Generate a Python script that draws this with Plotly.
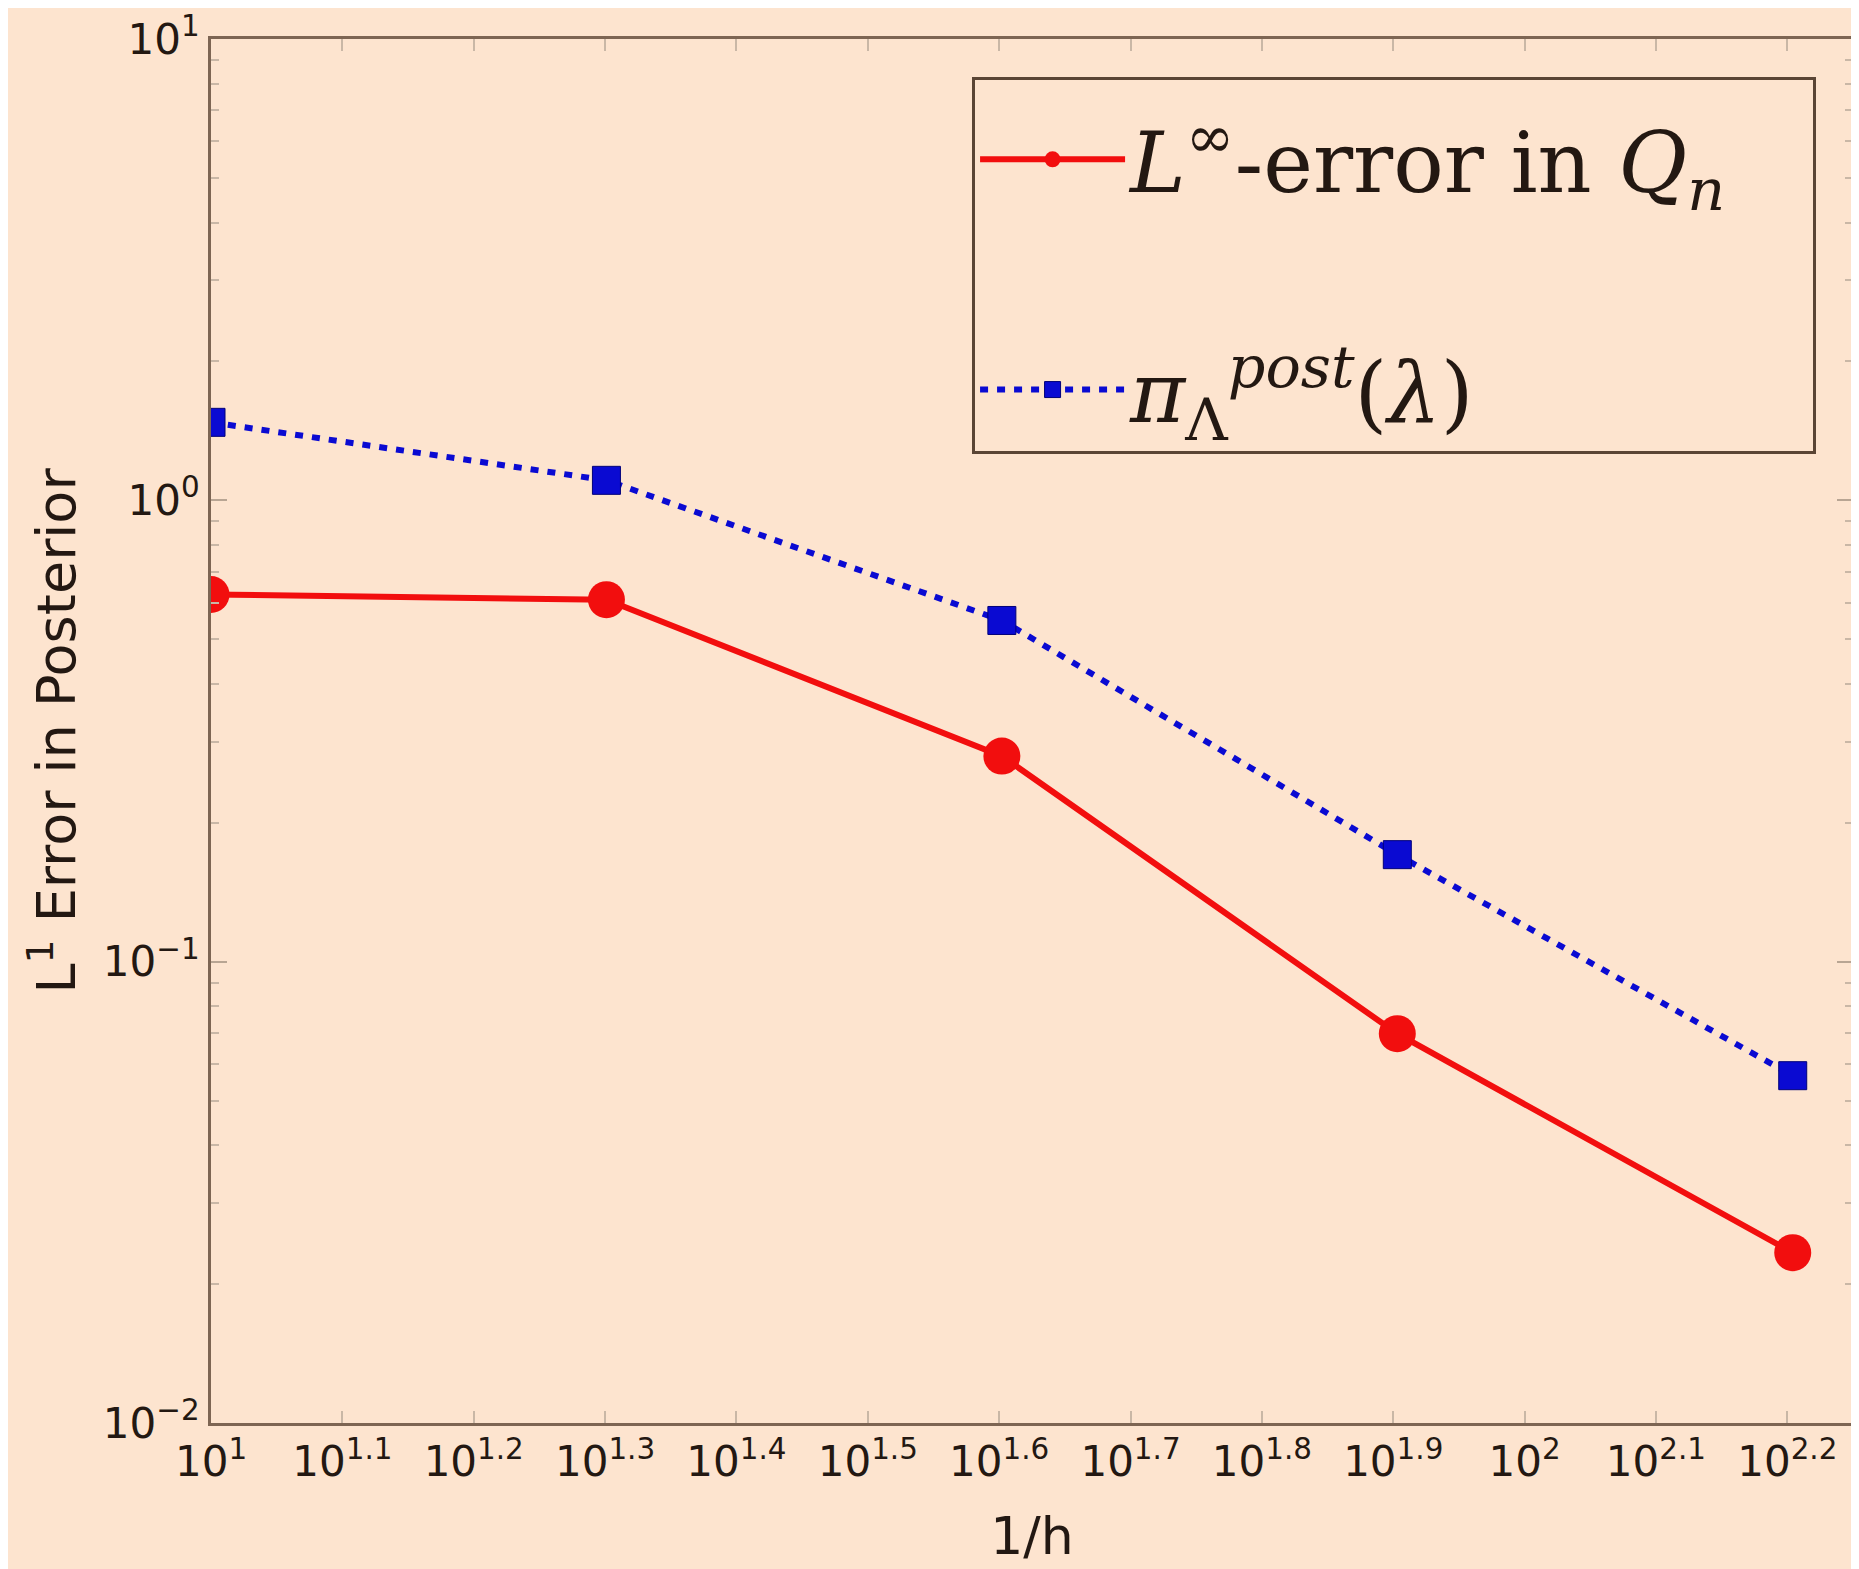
import plotly.graph_objects as go

# ---- data ----
inv_h = [10, 20, 40, 80, 160]
err_linf_Q = [0.625, 0.609, 0.279, 0.0698, 0.0234]
err_post = [1.476, 1.105, 0.549, 0.1706, 0.0566]

x_tick_exps = [1.0, 1.1, 1.2, 1.3, 1.4, 1.5, 1.6, 1.7, 1.8, 1.9, 2.0, 2.1, 2.2]
x_tick_labels = ["10<sup>1</sup>", "10<sup>1.1</sup>", "10<sup>1.2</sup>", "10<sup>1.3</sup>",
                 "10<sup>1.4</sup>", "10<sup>1.5</sup>", "10<sup>1.6</sup>", "10<sup>1.7</sup>",
                 "10<sup>1.8</sup>", "10<sup>1.9</sup>", "10<sup>2</sup>", "10<sup>2.1</sup>",
                 "10<sup>2.2</sup>"]
y_tick_vals = [0.01, 0.1, 1, 10]
y_tick_labels = ["10<sup>−2</sup>", "10<sup>−1</sup>", "10<sup>0</sup>", "10<sup>1</sup>"]
y_minor_vals = [m * d for d in [0.01, 0.1, 1] for m in range(2, 10)]

name_red = "<i>L</i><sup>∞</sup>-error in <i>Q</i><sub><i>n</i></sub>&nbsp;&nbsp;&nbsp;"
name_blue = "<i>π</i><sub>Λ</sub><sup><i>post</i></sup>(<i>λ</i>)"

bg = "#fde4cf"
axis_col = "#7d6553"
text_col = "#231812"

fig = go.Figure()
fig.add_trace(go.Scatter(
    x=inv_h, y=err_linf_Q, name=name_red, mode="lines+markers", legendgroup="a",
    line=dict(color="#f20e0e", width=6),
    marker=dict(symbol="circle", size=37, color="#f20e0e", line=dict(width=0)),
))
fig.add_trace(go.Scatter(
    x=inv_h, y=err_post, name=name_blue, mode="lines+markers", legendgroup="b",
    line=dict(color="#0a0ad2", width=6, dash="8px,9px"),
    marker=dict(symbol="square", size=28, color="#0a0ad2", line=dict(width=1, color="#00007a")),
))

fig.update_layout(
    width=1859, height=1569,
    paper_bgcolor=bg, plot_bgcolor=bg,
    margin=dict(l=203, r=14, t=31, b=154, autoexpand=False),
    showlegend=True,
    legend=dict(
        x=0.4635, y=0.9725, xanchor="left", yanchor="top",
        bgcolor=bg, bordercolor="#5a4535", borderwidth=3,
        font=dict(family="DejaVu Serif", size=84, color=text_col),
        title=dict(text="&nbsp;", font=dict(size=14)),
        traceorder="grouped", tracegroupgap=118,
        itemwidth=145,
    ),
    font=dict(family="DejaVu Sans", color=text_col),
)

fig.update_xaxes(
    type="log", range=[1, 2.25], automargin=False,
    tickvals=[10 ** e for e in x_tick_exps], ticktext=x_tick_labels,
    tickfont=dict(family="DejaVu Sans", size=42, color=text_col),
    ticks="inside", ticklen=12, tickwidth=1.5, tickcolor="#c9b7a6",
    showline=True, linecolor=axis_col, linewidth=3, mirror="ticks",
    showgrid=False, zeroline=False,
    title=dict(text="1/h", font=dict(family="DejaVu Sans", size=52, color=text_col), standoff=33),
)
fig.update_yaxes(
    type="log", range=[-2, 1], automargin=False,
    tickvals=y_tick_vals, ticktext=y_tick_labels,
    tickfont=dict(family="DejaVu Sans", size=42, color=text_col),
    ticks="inside", ticklen=16, tickwidth=1.5, tickcolor="#b8a593",
    minor=dict(tickvals=y_minor_vals, ticks="inside", ticklen=8, tickwidth=1.5, tickcolor="#c9b7a6"),
    showline=True, linecolor=axis_col, linewidth=3, mirror="ticks",
    showgrid=False, zeroline=False,
    title=dict(text="L<sup>1</sup> Error in Posterior", font=dict(family="DejaVu Sans", size=54, color=text_col), standoff=10),
)

fig.write_html("out.html")
